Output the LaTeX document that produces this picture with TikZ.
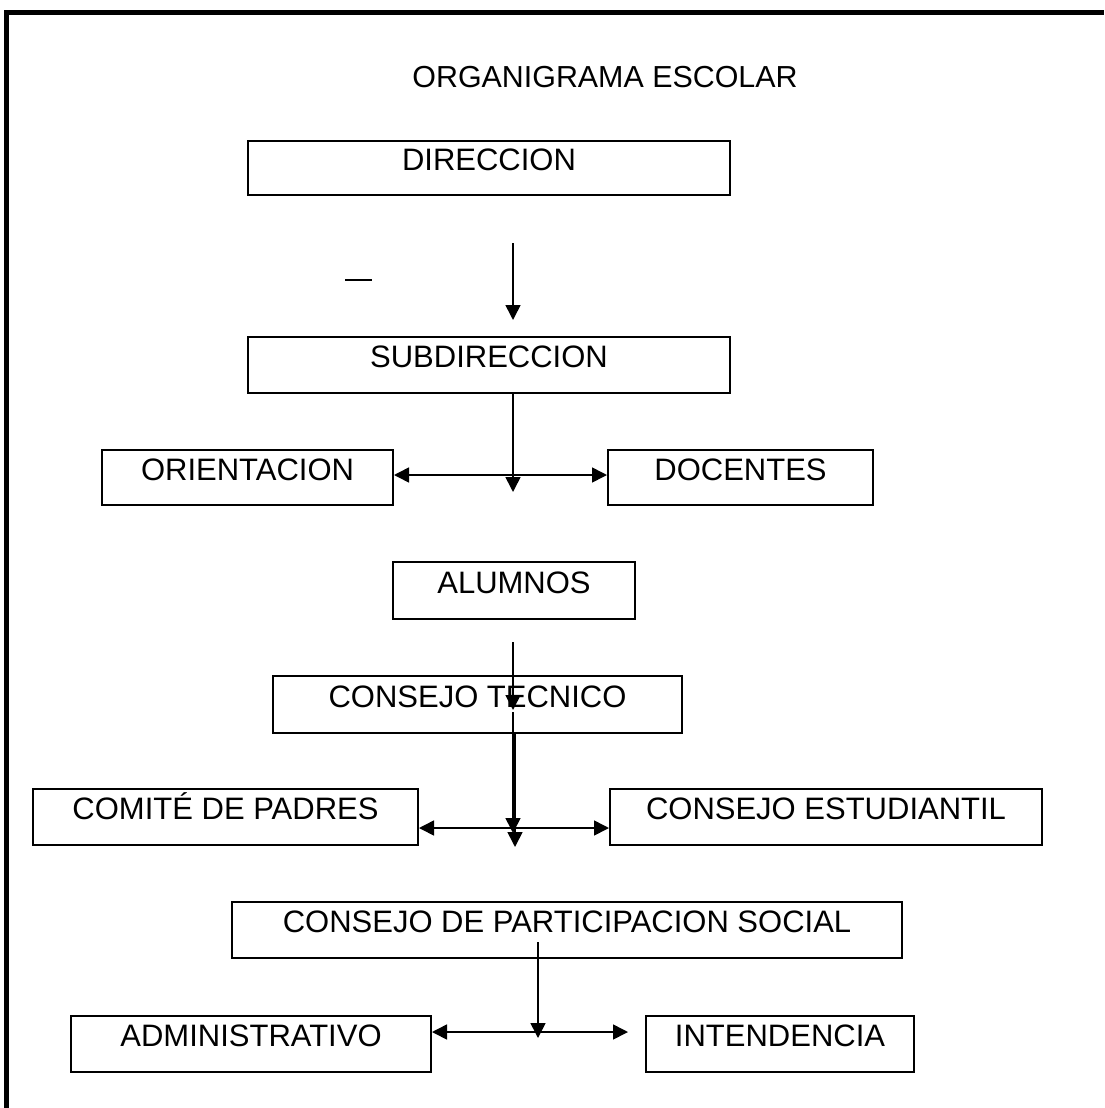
\documentclass[tikz,border=0pt]{standalone}
\usepackage{fontspec}
\setmainfont{Liberation Sans}
\usetikzlibrary{arrows.meta}

\begin{document}
\begin{tikzpicture}[x=1pt,y=-1pt,
  every node/.style={draw,line width=2pt,inner sep=3pt,
    font=\fontsize{31}{37}\selectfont,text height=23pt,text depth=17.8pt},
  arr/.style={line width=1.6pt,-{Triangle[length=15pt,width=15pt]}},
  arrs/.style={line width=1.6pt,{Triangle[length=15pt,width=15pt]}-{Triangle[length=15pt,width=15pt]}}]
\useasboundingbox (0,0) rectangle (1104,1108);
\draw [line width=5pt] (6,1108) -- (6,13) -- (1104,13);

\node [draw=none,font=\fontsize{30.4}{36}\selectfont] (tit) at (605,85) {ORGANIGRAMA ESCOLAR};

\node [minimum width=482pt,minimum height=54pt] (dir) at (489,168) {DIRECCION};
\node [minimum width=482pt,minimum height=56pt] (sub) at (489,365) {SUBDIRECCION};
\node [minimum width=291pt,minimum height=55pt] (ori) at (247.5,477.5) {ORIENTACION};
\node [minimum width=265pt,minimum height=55pt] (doc) at (740.5,477.5) {DOCENTES};
\node [minimum width=242pt,minimum height=57pt] (alu) at (514,590.5) {ALUMNOS};
\node [minimum width=409pt,minimum height=57pt] (cte) at (477.5,704.5) {CONSEJO TECNICO};
\node [minimum width=385pt,minimum height=56pt] (com) at (225.5,817) {COMITÉ DE PADRES};
\node [minimum width=432pt,minimum height=56pt] (est) at (826,817) {CONSEJO ESTUDIANTIL};
\node [minimum width=670pt,minimum height=56pt] (cps) at (567,930) {CONSEJO DE PARTICIPACION SOCIAL};
\node [minimum width=360pt,minimum height=56pt] (adm) at (251,1044) {ADMINISTRATIVO};
\node [minimum width=268pt,minimum height=56pt] (int) at (780,1044) {INTENDENCIA};

\coordinate (d1) at (513,243);
\coordinate (d2) at (513,320);
\draw [arr] (d1) -- (d2);
\draw [line width=1.6pt] (345,280) -- (372,280);
\coordinate (s1) at (513,492);
\draw [arr] (sub.south -| s1) -- (s1);
\draw [arrs] ([yshift=2.5pt]ori.east) -- ([yshift=2.5pt]doc.west);
\coordinate (a1) at (513,642);
\coordinate (a2) at (513,710);
\draw [arr] (a1) -- (a2);
\coordinate (c1) at (513,712);
\coordinate (c2) at (513,833);
\coordinate (c3) at (515,847);
\draw [arr] (c1) -- (c2);
\draw [arr] (cte.south -| c3) -- (c3);
\draw [arrs] ([yshift=-11pt]com.east) -- ([yshift=-11pt]est.west);
\coordinate (p1) at (538,942);
\coordinate (p2) at (538,1038);
\draw [arr] (p1) -- (p2);
\draw [arrs] ([yshift=12pt]adm.east) -- ([xshift=-17pt,yshift=12pt]int.west);
\end{tikzpicture}
\end{document}
